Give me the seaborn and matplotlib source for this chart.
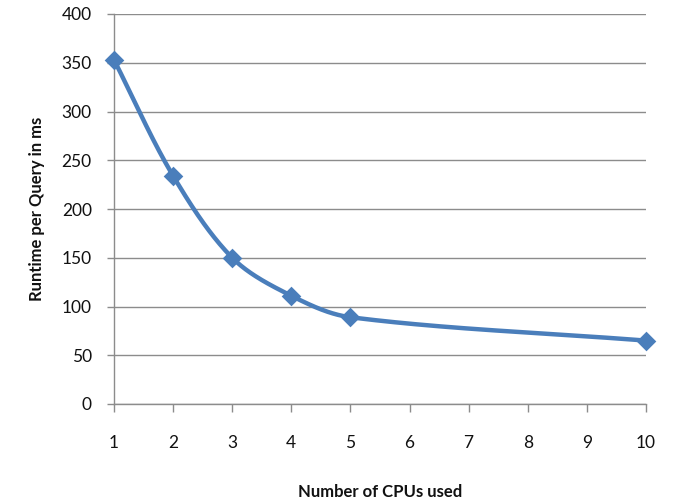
import numpy as np
import pandas as pd
import matplotlib
matplotlib.use("Agg")
import matplotlib.pyplot as plt
import seaborn as sns

cpus = [1, 2, 3, 4, 5, 10]
runtime_ms = [353, 234, 150, 111, 89, 65]
x_ticks = [1, 2, 3, 4, 5, 6, 7, 8, 9, 10]
y_ticks = [0, 50, 100, 150, 200, 250, 300, 350, 400]

sns.set_theme(style="white")
plt.rcParams['font.family'] = ['Lato', 'DejaVu Sans']

fig = plt.figure(figsize=(6.78, 5.04), dpi=100)
ax = fig.add_axes([114/678, 1-404/504, (646-114)/678, (404-14)/504])

# Smooth curve (length-scaled Catmull-Rom Bezier, similar to Excel smoothing), in pixel space
sx, sy = 59.1, 390/400
P = np.column_stack([np.array(cpus, float)*sx, np.array(runtime_ms, float)*sy])
n = len(P)
k = 1/3

def tangent_ctrl(i, direction):
    prev = P[i-1] if i > 0 else P[i]
    nxt = P[i+1] if i < n-1 else P[i]
    T = nxt - prev
    d_prev = np.linalg.norm(P[i] - prev)
    d_next = np.linalg.norm(nxt - P[i])
    tot = d_prev + d_next
    if direction > 0:
        return P[i] + T * (d_next / tot) * k
    return P[i] - T * (d_prev / tot) * k

curve = []
for i in range(n-1):
    p1, p2 = P[i], P[i+1]
    c1 = tangent_ctrl(i, +1)
    c2 = tangent_ctrl(i+1, -1)
    t = np.linspace(0, 1, 60)[:, None]
    seg = (1-t)**3*p1 + 3*(1-t)**2*t*c1 + 3*(1-t)*t**2*c2 + t**3*p2
    curve.append(seg if i == 0 else seg[1:])
curve = np.vstack(curve)
smooth = pd.DataFrame({"x": curve[:, 0]/sx, "y": curve[:, 1]/sy})
pts = pd.DataFrame({"x": cpus, "y": runtime_ms})

color = "#4A7EBB"
sns.lineplot(data=smooth, x="x", y="y", ax=ax, color=color, linewidth=3.2, sort=False, estimator=None)
sns.scatterplot(data=pts, x="x", y="y", ax=ax, color=color, marker="D", s=100, edgecolor=color,
                linewidth=0, zorder=5, clip_on=False)

ax.set_xlim(1, 10)
ax.set_ylim(0, 400)
ax.set_xticks(x_ticks)
ax.set_yticks(y_ticks)
ax.yaxis.grid(True, color="#8c8c8c", linewidth=1)
ax.xaxis.grid(False)
ax.set_axisbelow(True)
for s in ["top", "right"]:
    ax.spines[s].set_visible(False)
for s in ["left", "bottom"]:
    ax.spines[s].set_color("#8c8c8c")
    ax.spines[s].set_linewidth(1)
ax.tick_params(axis="x", direction="out", length=6, width=1, color="#8c8c8c", pad=16, labelsize=12.5, labelcolor="#111111")
ax.tick_params(axis="y", direction="out", length=5, width=1, color="#8c8c8c", pad=11, labelsize=12.5, labelcolor="#111111")
ax.tick_params(bottom=True, left=True)
ax.set_xlabel("Number of CPUs used", fontsize=12, fontweight="bold", color="#111111", labelpad=24)
ax.set_ylabel("Runtime per Query in ms", fontsize=12, fontweight="bold", color="#111111", labelpad=12)

fig.savefig("out.png", dpi=100)
